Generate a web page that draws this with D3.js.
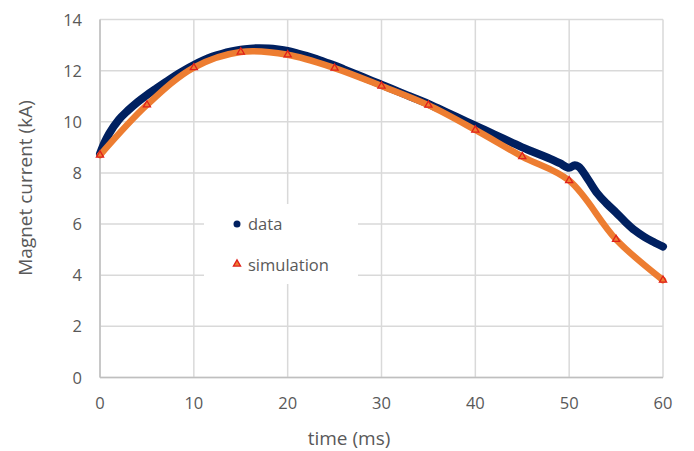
<!DOCTYPE html>
<html>
<head>
<meta charset="utf-8">
<script src="https://cdn.jsdelivr.net/npm/d3@7"></script>
<style>
  body { margin: 0; background: #fff; }
  text { font-family: "Open Sans", sans-serif; fill: #595959; }
</style>
</head>
<body>
<script>
var width = 694,
    height = 451;

// measured magnet current (kA) vs time (ms)
var dataTime = [0, 0.5, 1, 2, 3, 4, 5, 6, 7, 8, 9, 10, 11, 12, 13, 14, 15, 16, 17, 18, 19, 20,
  21, 22, 23, 24, 25, 26, 27, 28, 29, 30, 31, 32, 33, 34, 35, 36, 37, 38, 39, 40,
  41, 42, 43, 44, 45, 46, 47, 48, 49, 50, 50.6, 51, 52, 53, 54, 55, 56, 57, 58, 59, 60];
var dataCurrent = [8.75, 9.2, 9.55, 10.08, 10.45, 10.77, 11.05, 11.3, 11.55, 11.8, 12.02, 12.22,
  12.4, 12.55, 12.66, 12.75, 12.82, 12.86, 12.88, 12.87, 12.83, 12.77, 12.68, 12.58, 12.46,
  12.33, 12.2, 12.05, 11.9, 11.75, 11.6, 11.45, 11.3, 11.15, 11.0, 10.85, 10.7, 10.53,
  10.36, 10.19, 10.02, 9.85, 9.68, 9.51, 9.34, 9.17, 9.0, 8.85, 8.7, 8.55, 8.38, 8.2,
  8.3, 8.25, 7.75, 7.2, 6.8, 6.45, 6.08, 5.75, 5.5, 5.3, 5.12];

// simulation, one point every 5 ms
var simTime = [0, 5, 10, 15, 20, 25, 30, 35, 40, 45, 50, 55, 60];
var simCurrent = [8.7, 10.66, 12.12, 12.73, 12.62, 12.1, 11.4, 10.65, 9.68, 8.64, 7.7, 5.4, 3.81];

var xTicks = [0, 10, 20, 30, 40, 50, 60];
var yTicks = [0, 2, 4, 6, 8, 10, 12, 14];

var svg = d3.select('body')
  .append('svg')
  .attr('width', width)
  .attr('height', height);

var x = d3.scaleLinear().domain([0, 60]).range([100, 663]);
var y = d3.scaleLinear().domain([0, 14]).range([377.5, 19.5]);

// grid
svg.append('g')
  .selectAll('line')
  .data(yTicks)
  .enter().append('line')
  .attr('x1', x(0)).attr('x2', x(60))
  .attr('y1', function(d) { return y(d); })
  .attr('y2', function(d) { return y(d); })
  .attr('stroke', '#d9d9d9')
  .attr('stroke-width', 1.5);

svg.append('g')
  .selectAll('line')
  .data(xTicks)
  .enter().append('line')
  .attr('x1', function(d) { return x(d); })
  .attr('x2', function(d) { return x(d); })
  .attr('y1', y(0)).attr('y2', y(14))
  .attr('stroke', '#d9d9d9')
  .attr('stroke-width', 1.5);

// axis lines
svg.append('line')
  .attr('x1', x(0)).attr('x2', x(60))
  .attr('y1', y(0)).attr('y2', y(0))
  .attr('stroke', '#bfbfbf').attr('stroke-width', 1.5);
svg.append('line')
  .attr('x1', x(0)).attr('x2', x(0))
  .attr('y1', y(0)).attr('y2', y(14))
  .attr('stroke', '#bfbfbf').attr('stroke-width', 1.5);

// tick labels
svg.append('g')
  .selectAll('text')
  .data(yTicks)
  .enter().append('text')
  .attr('x', 82)
  .attr('y', function(d) { return y(d) + 6; })
  .attr('text-anchor', 'end')
  .style('font-size', '16.5px')
  .text(function(d) { return d; });

svg.append('g')
  .selectAll('text')
  .data(xTicks)
  .enter().append('text')
  .attr('x', function(d) { return x(d); })
  .attr('y', 409)
  .attr('text-anchor', 'middle')
  .style('font-size', '16.5px')
  .text(function(d) { return d; });

// axis titles
svg.append('text')
  .attr('x', 349).attr('y', 445)
  .attr('text-anchor', 'middle')
  .style('font-size', '19px')
  .text('time (ms)');

svg.append('text')
  .attr('transform', 'translate(32,188) rotate(-90)')
  .attr('text-anchor', 'middle')
  .style('font-size', '19px')
  .text('Magnet current (kA)');

// series
var dataPts = dataTime.map(function(t, i) { return [t, dataCurrent[i]]; });
var simPts = simTime.map(function(t, i) { return [t, simCurrent[i]]; });

var dataLine = d3.line()
  .x(function(d) { return x(d[0]); })
  .y(function(d) { return y(d[1]); })
  .curve(d3.curveMonotoneX);

var simLine = d3.line()
  .x(function(d) { return x(d[0]); })
  .y(function(d) { return y(d[1]); })
  .curve(d3.curveCatmullRom.alpha(0.5));

svg.append('path')
  .datum(dataPts)
  .attr('d', dataLine)
  .attr('fill', 'none')
  .attr('stroke', '#002060')
  .attr('stroke-width', 8)
  .attr('stroke-linecap', 'round')
  .attr('stroke-linejoin', 'round');

svg.append('path')
  .datum(simPts)
  .attr('d', simLine)
  .attr('fill', 'none')
  .attr('stroke', '#ED7D31')
  .attr('stroke-width', 6.5)
  .attr('stroke-linecap', 'round')
  .attr('stroke-linejoin', 'round');

var tri = d3.symbol().type(d3.symbolTriangle).size(22);

svg.append('g')
  .selectAll('path')
  .data(simPts)
  .enter().append('path')
  .attr('d', tri)
  .attr('transform', function(d) { return 'translate(' + x(d[0]) + ',' + y(d[1]) + ')'; })
  .attr('fill', '#ED7D31')
  .attr('stroke', '#e0201b')
  .attr('stroke-width', 1.3);

// legend
var legend = svg.append('g');
legend.append('rect')
  .attr('x', 204).attr('y', 204)
  .attr('width', 154).attr('height', 80)
  .attr('fill', '#fff');
legend.append('circle')
  .attr('cx', 237).attr('cy', 224).attr('r', 3.5)
  .attr('fill', '#002060');
legend.append('text')
  .attr('x', 248).attr('y', 229.5)
  .style('font-size', '16.5px')
  .text('data');
legend.append('path')
  .attr('d', tri)
  .attr('transform', 'translate(237,264)')
  .attr('fill', '#ED7D31')
  .attr('stroke', '#e0201b')
  .attr('stroke-width', 1.3);
legend.append('text')
  .attr('x', 248).attr('y', 270.5)
  .style('font-size', '16.5px')
  .text('simulation');
</script>
</body>
</html>
